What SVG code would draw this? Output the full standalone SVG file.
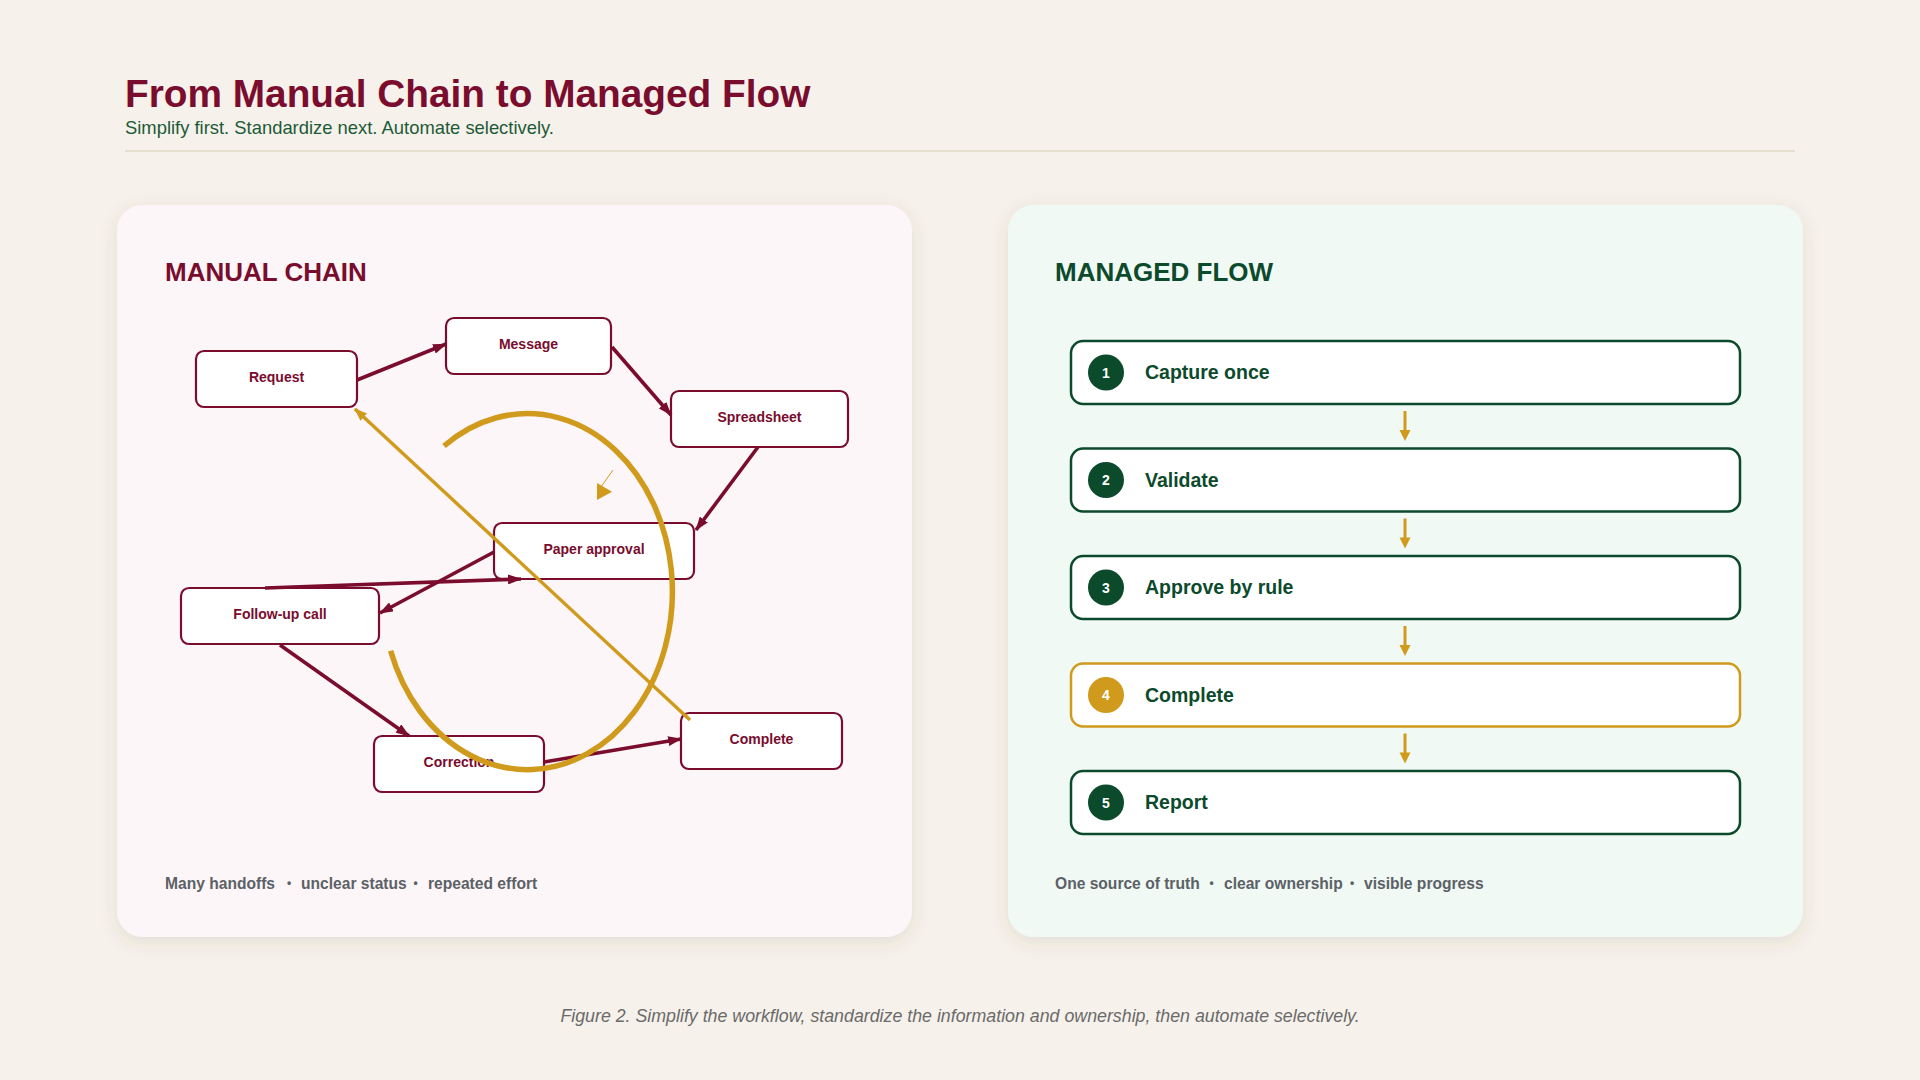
<svg xmlns="http://www.w3.org/2000/svg" width="1920" height="1080" viewBox="0 0 1920 1080">
<defs>
<filter id="shadow" x="-10%" y="-10%" width="120%" height="120%">
<feDropShadow dx="0" dy="5" stdDeviation="9" flood-color="#5a4a2a" flood-opacity="0.12"/>
</filter>
<marker id="arrRed" markerUnits="userSpaceOnUse" viewBox="0 0 14 10" markerWidth="14" markerHeight="10" refX="13" refY="5" orient="auto">
<path d="M0,0 L14,5 L0,10 z" fill="#7a0c2e"/>
</marker>
<marker id="arrGold" markerUnits="userSpaceOnUse" viewBox="0 0 13 10" markerWidth="13" markerHeight="10" refX="12" refY="5" orient="auto">
<path d="M0,0 L13,5 L0,10 z" fill="#d09a1c"/>
</marker>
</defs>
<style>
.bg{fill:#f6f2eb}
.title{font-family:"Liberation Sans",Arial,sans-serif;font-weight:700;font-size:38.8px;fill:#7a0c2e}
.sub{font-family:"Liberation Sans",Arial,sans-serif;font-size:18.4px;fill:#1d5a38}
.ptitle-r{font-family:"Liberation Sans",Arial,sans-serif;font-weight:700;font-size:26px;fill:#7a0c2e}
.ptitle-g{font-family:"Liberation Sans",Arial,sans-serif;font-weight:700;font-size:26px;fill:#0c4a2c}
.rnode{fill:#ffffff;stroke:#7a0c2e;stroke-width:2.2}
.rlabel{font-family:"Liberation Sans",Arial,sans-serif;font-weight:700;font-size:14px;fill:#7a0c2e;text-anchor:middle}
.gbox{fill:#ffffff;stroke:#0c4a2c;stroke-width:2.5}
.gbox-gold{fill:#ffffff;stroke:#d09a1c;stroke-width:2.5}
.gcirc{fill:#0c4a2c}
.gcirc-gold{fill:#d09a1c}
.num{font-family:"Liberation Sans",Arial,sans-serif;font-weight:700;font-size:14px;fill:#ffffff;text-anchor:middle}
.glabel{font-family:"Liberation Sans",Arial,sans-serif;font-weight:700;font-size:19.5px;fill:#0c4a2c}
.redline{stroke:#7a0c2e;stroke-width:3.6;fill:none;marker-end:url(#arrRed)}
.goldline{stroke:#d09a1c;stroke-width:3.4;fill:none}
.foot{font-family:"Liberation Sans",Arial,sans-serif;font-weight:700;font-size:15.6px;fill:#5b6166}
.dot{font-family:"Liberation Sans",Arial,sans-serif;font-weight:700;font-size:12px;fill:#5b6166;text-anchor:middle}
.cap{font-family:"Liberation Sans",Arial,sans-serif;font-style:italic;font-size:17.8px;fill:#6a6a6a;text-anchor:middle}
</style>
<rect class="bg" x="0" y="0" width="1920" height="1080"/>

<text class="title" x="125" y="107">From Manual Chain to Managed Flow</text>
<text class="sub" x="125" y="134">Simplify first. Standardize next. Automate selectively.</text>
<line x1="125" y1="151" x2="1795" y2="151" stroke="#dcd7c4" stroke-width="1.5"/>

<!-- Panels -->
<rect x="117" y="205" width="795" height="732" rx="26" fill="#fdf6f8" filter="url(#shadow)"/>
<rect x="1008" y="205" width="795" height="732" rx="26" fill="#f1f9f4" filter="url(#shadow)"/>

<text class="ptitle-r" x="165" y="281">MANUAL CHAIN</text>
<text class="ptitle-g" x="1055" y="281">MANAGED FLOW</text>

<!-- Manual chain nodes -->
<g id="node-request"><rect class="rnode" x="196" y="351" width="161" height="56" rx="8"/><text class="rlabel" x="276.5" y="382">Request</text></g>
<g id="node-message"><rect class="rnode" x="446" y="318" width="165" height="56" rx="8"/><text class="rlabel" x="528.5" y="349">Message</text></g>
<g id="node-spreadsheet"><rect class="rnode" x="671" y="391" width="177" height="56" rx="8"/><text class="rlabel" x="759.5" y="422">Spreadsheet</text></g>
<g id="node-paper-approval"><rect class="rnode" x="494" y="523" width="200" height="56" rx="8"/><text class="rlabel" x="594" y="554">Paper approval</text></g>
<g id="node-follow-up"><rect class="rnode" x="181" y="588" width="198" height="56" rx="8"/><text class="rlabel" x="280" y="619">Follow-up call</text></g>
<g id="node-correction"><rect class="rnode" x="374" y="736" width="170" height="56" rx="8"/><text class="rlabel" x="459" y="767">Correction</text></g>
<g id="node-complete"><rect class="rnode" x="681" y="713" width="161" height="56" rx="8"/><text class="rlabel" x="761.5" y="744">Complete</text></g>

<!-- Managed flow nodes -->
<g id="step-1"><rect class="gbox" x="1071" y="341" width="669" height="63" rx="12"/><circle class="gcirc" cx="1106" cy="372.5" r="18"/><text class="num" x="1106" y="377.5">1</text><text class="glabel" x="1145" y="379">Capture once</text></g>
<g id="step-2"><rect class="gbox" x="1071" y="448.5" width="669" height="63" rx="12"/><circle class="gcirc" cx="1106" cy="480" r="18"/><text class="num" x="1106" y="485">2</text><text class="glabel" x="1145" y="486.5">Validate</text></g>
<g id="step-3"><rect class="gbox" x="1071" y="556" width="669" height="63" rx="12"/><circle class="gcirc" cx="1106" cy="587.5" r="18"/><text class="num" x="1106" y="592.5">3</text><text class="glabel" x="1145" y="594">Approve by rule</text></g>
<g id="step-4"><rect class="gbox-gold" x="1071" y="663.5" width="669" height="63" rx="12"/><circle class="gcirc-gold" cx="1106" cy="695" r="18"/><text class="num" x="1106" y="700">4</text><text class="glabel" x="1145" y="701.5">Complete</text></g>
<g id="step-5"><rect class="gbox" x="1071" y="771" width="669" height="63" rx="12"/><circle class="gcirc" cx="1106" cy="802.5" r="18"/><text class="num" x="1106" y="807.5">5</text><text class="glabel" x="1145" y="809">Report</text></g>

<!-- Connectors -->
<g id="connectors">
<line class="redline" x1="357" y1="380" x2="446" y2="344"/>
<line class="redline" x1="612" y1="347" x2="671" y2="415"/>
<line class="redline" x1="758" y1="447" x2="696" y2="530"/>
<line class="redline" x1="494" y1="552" x2="380" y2="613"/>
<line class="redline" x1="265" y1="588" x2="521" y2="579" stroke-width="4"/>
<line class="redline" x1="280" y1="645" x2="409" y2="736"/>
<line class="redline" x1="544" y1="762" x2="681" y2="739"/>
<line class="goldline" x1="690" y1="720" x2="355" y2="409" marker-end="url(#arrGold)"/>
<path d="M 444 446 A 145 178 0 1 1 390.6 650.7" fill="none" stroke="#d09a1c" stroke-width="5.5"/>
<line x1="613" y1="470" x2="598" y2="491" stroke="#d09a1c" stroke-width="1"/>
<polygon points="597,483 612,491.7 597,500" fill="#d09a1c"/>

<line x1="1405" y1="411" x2="1405" y2="432" stroke="#d09a1c" stroke-width="3"/>
<polygon points="1399.5,430 1410.5,430 1405,441" fill="#d09a1c"/>
<line x1="1405" y1="518.5" x2="1405" y2="539.5" stroke="#d09a1c" stroke-width="3"/>
<polygon points="1399.5,537.5 1410.5,537.5 1405,548.5" fill="#d09a1c"/>
<line x1="1405" y1="626" x2="1405" y2="647" stroke="#d09a1c" stroke-width="3"/>
<polygon points="1399.5,645 1410.5,645 1405,656" fill="#d09a1c"/>
<line x1="1405" y1="733.5" x2="1405" y2="754.5" stroke="#d09a1c" stroke-width="3"/>
<polygon points="1399.5,752.5 1410.5,752.5 1405,763.5" fill="#d09a1c"/>
</g>

<!-- Footnotes -->
<text class="foot" y="889"><tspan x="165">Many handoffs</tspan><tspan x="301">unclear status</tspan><tspan x="428">repeated effort</tspan></text>
<text class="dot" x="289" y="887">•</text>
<text class="dot" x="415.5" y="887">•</text>
<text class="foot" y="889"><tspan x="1055">One source of truth</tspan><tspan x="1224">clear ownership</tspan><tspan x="1364">visible progress</tspan></text>
<text class="dot" x="1211.5" y="887">•</text>
<text class="dot" x="1352" y="887">•</text>

<text class="cap" x="960" y="1022">Figure 2. Simplify the workflow, standardize the information and ownership, then automate selectively.</text>
</svg>
